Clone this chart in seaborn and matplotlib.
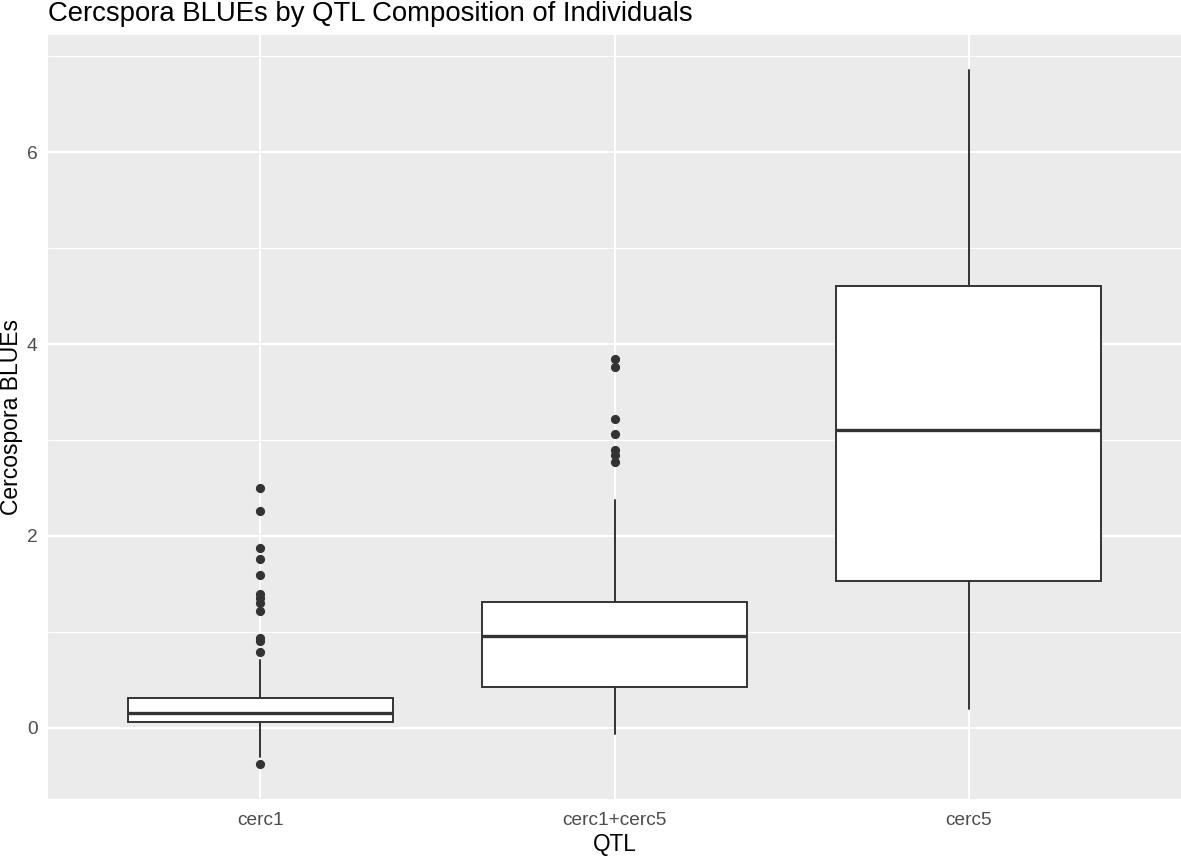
import matplotlib
matplotlib.use("Agg")
import matplotlib.pyplot as plt
from matplotlib.ticker import FixedLocator
import seaborn as sns

# ---- data ----
categories = ["cerc1", "cerc1+cerc5", "cerc5"]
whisker_low = [-0.30, -0.06, 0.20]
q1 = [0.065, 0.43, 1.53]
median = [0.15, 0.96, 3.10]
q3 = [0.315, 1.315, 4.61]
whisker_high = [0.71, 2.38, 6.86]
outliers_cerc1 = [2.50, 2.26, 1.87, 1.76, 1.595, 1.40, 1.35, 1.30, 1.22, 0.935, 0.90, 0.79, -0.38]
outliers_cerc1_cerc5 = [3.84, 3.76, 3.22, 3.06, 2.90, 2.84, 2.77]
outliers_cerc5 = []
y_ticks = [0, 2, 4, 6]
y_minor = [1, 3, 5, 7]

title = "Cercspora BLUEs by QTL Composition of Individuals"
xlabel = "QTL"
ylabel = "Cercospora BLUEs"

# ---- style ----
sns.set_theme(style="darkgrid", rc={
    "axes.facecolor": "#EBEBEB",
    "grid.color": "white",
    "axes.edgecolor": "#EBEBEB",
    "xtick.color": "#333333",
    "ytick.color": "#333333",
    "xtick.labelcolor": "#4D4D4D",
    "ytick.labelcolor": "#4D4D4D",
    "xtick.major.size": 3.6,
    "ytick.major.size": 3.6,
    "xtick.major.width": 1.0,
    "ytick.major.width": 1.0,
    "xtick.major.pad": 6,
    "ytick.major.pad": 4,
})
plt.rcParams['font.family'] = ['Liberation Sans', 'DejaVu Sans']

fig = plt.figure(figsize=(11.81, 8.56), dpi=100)
W, H = 1181, 856
left, right, top, bottom = 48, 1181, 35, 799
ax = fig.add_axes([left / W, (H - bottom) / H, (right - left) / W, (bottom - top) / H])

outliers = [outliers_cerc1, outliers_cerc1_cerc5, outliers_cerc5]
stats = []
for i, c in enumerate(categories):
    stats.append(dict(label=c, whislo=whisker_low[i], q1=q1[i], med=median[i],
                      q3=q3[i], whishi=whisker_high[i], fliers=outliers[i]))

line_col = "#333333"
ax.bxp(stats, positions=[1, 2, 3], widths=0.75, patch_artist=True, showcaps=False,
       boxprops=dict(facecolor="white", edgecolor=line_col, linewidth=1.4),
       medianprops=dict(color=line_col, linewidth=2.4),
       whiskerprops=dict(color=line_col, linewidth=1.4),
       flierprops=dict(marker="o", markerfacecolor=line_col, markeredgecolor=line_col,
                       markersize=5.6, linestyle="none"),
       zorder=3)

ax.set_xlim(0.4, 3.6)
ax.set_ylim(-0.742, 7.222)
ax.set_yticks(y_ticks)
ax.set_yticklabels([str(t) for t in y_ticks])
ax.yaxis.set_minor_locator(FixedLocator(y_minor))
ax.tick_params(axis="y", which="minor", length=0)
ax.grid(which="major", color="white", linewidth=1.5)
ax.grid(which="minor", axis="y", color="white", linewidth=0.75)
ax.set_axisbelow(True)
for s in ax.spines.values():
    s.set_visible(False)

ax.tick_params(axis="both", which="major", labelsize=13.8)
ax.set_xlabel(xlabel, fontsize=16.3, color="black", labelpad=2.5)
ax.set_ylabel(ylabel, fontsize=16.5, color="black", labelpad=2.5)
ax.set_title(title, loc="left", fontsize=19.8, color="black", pad=10.2)

fig.savefig("out.png", dpi=100)
